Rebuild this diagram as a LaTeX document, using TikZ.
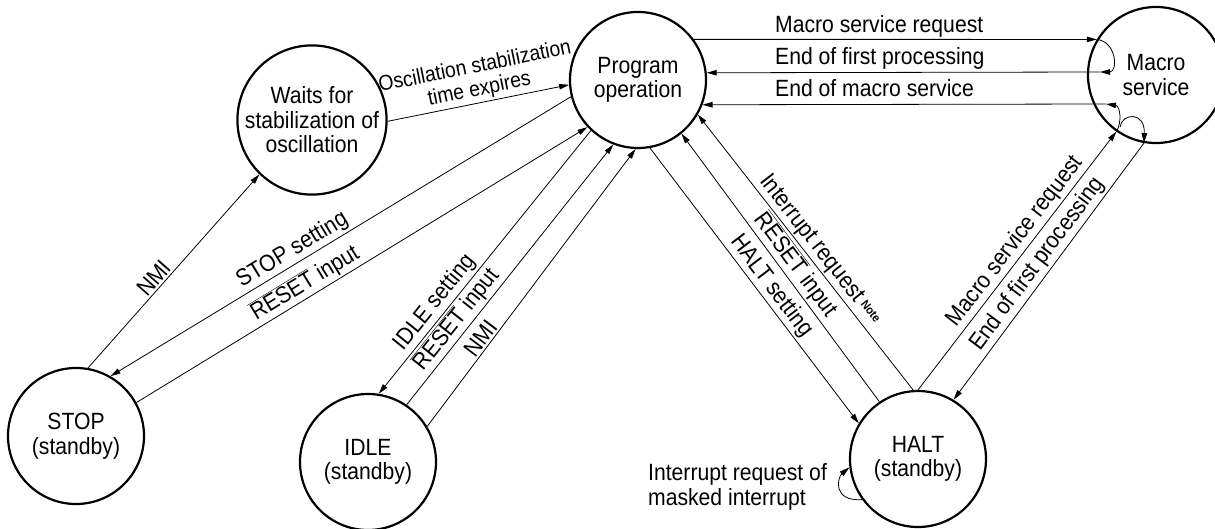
\documentclass[tikz,border=0pt]{standalone}
\usepackage{fontspec}
\setmainfont{Liberation Sans}[FakeStretch=0.9]
\usetikzlibrary{arrows.meta}
\begin{document}
\begin{tikzpicture}[x=1pt,y=-1pt,
  state/.style={circle,draw,line width=2.2pt,minimum size=136pt,inner sep=0pt,align=center,font=\fontsize{23.5}{24.5}\selectfont},
  conn/.style={line width=0.8pt,-{Triangle[length=10pt,width=5.5pt]}},
  lbl/.style={font=\fontsize{23.5}{25}\selectfont,inner sep=2pt},
]
\useasboundingbox (0,0) rectangle (1215,529);
% states
\node[state] (wait) at (312,120) {Waits for\\stabilization of\\oscillation};
\node[state] (prog) at (638,80) {Program\\operation};
\node[state] (mac) at (1156,75) {Macro\\service};
\node[state] (stop) at (76,436) {STOP\\(standby)};
\node[state] (idle) at (368,462) {IDLE\\(standby)};
\node[state] (halt) at (918,459) {HALT\\(standby)};

% left part
\draw[conn] (wait.359) -- node[lbl,sloped,above,pos=0.52,align=center,inner sep=2.5pt,font=\fontsize{21.5}{23}\selectfont] {Oscillation stabilization\\time expires} (prog.184);
\draw[conn] (stop.80) -- node[lbl,sloped,above,pos=0.43] {NMI} (wait.226);
\draw[conn] (prog.194) -- node[lbl,sloped,above,pos=0.59] {STOP setting} (stop.60);
\draw[conn] (stop.29) -- node[lbl,sloped,above,pos=0.39] {$\overline{\mbox{RESET}}$ input} (prog.223);
\draw[conn] (prog.227) -- node[lbl,sloped,above,pos=0.685] {IDLE setting} (idle.81);
\draw[conn] (idle.56) -- node[lbl,sloped,above,pos=0.295] {$\overline{\mbox{RESET}}$ input} (prog.249);
\draw[conn] (idle.31) -- node[lbl,sloped,above,pos=0.296] {NMI} (prog.268);

% HALT part
\draw[conn] (prog.280) -- node[lbl,sloped,above,pos=0.531] {HALT setting} (halt.149);
\draw[conn] (halt.124) -- node[lbl,sloped,above,pos=0.48] {$\overline{\mbox{RESET}}$ input} (prog.309);
\draw[conn] (halt.94) -- node[lbl,sloped,above,pos=0.48] {Interrupt request\,\raisebox{4pt}{\fontsize{12}{12}\selectfont\bfseries Note}} (prog.330);
\draw[conn] (halt.90) -- node[lbl,sloped,above,pos=0.544] {Macro service request} (mac.235);
\draw[conn] (mac.260) -- node[lbl,sloped,above,pos=0.503] {End of first processing} (halt.59);
\draw[conn] (halt.216) .. controls +(-30,2) and +(-12,10) .. (halt.187);
\node[lbl,anchor=north west,align=left] (masked) at (646,461) {Interrupt request of\\masked interrupt};

% top horizontal connections
\coordinate (m2) at (1100,72);
\coordinate (m3) at (1106,104);
\coordinate (m4) at (1120,127);
\draw[conn] (prog.36) -- (mac.149);
\draw[conn] (mac.149) .. controls +(20,2) and +(18,0) .. (m2);
\draw[conn] (m2) -- (prog.6.8);
\draw[conn] (mac.235) .. controls +(6,-10) and +(14,2) .. (m3);
\draw[conn] (m3) -- (prog.339.3);
\draw[conn] (m4) .. controls (1122,113) and (1145,111) .. (mac.260);
\node[lbl,anchor=base west] (l1) at (773,33) {Macro service request};
\node[lbl,anchor=base west] (l2) at (773,65) {End of first processing};
\node[lbl,anchor=base west] (l3) at (773,97) {End of macro service};
\end{tikzpicture}
\end{document}
